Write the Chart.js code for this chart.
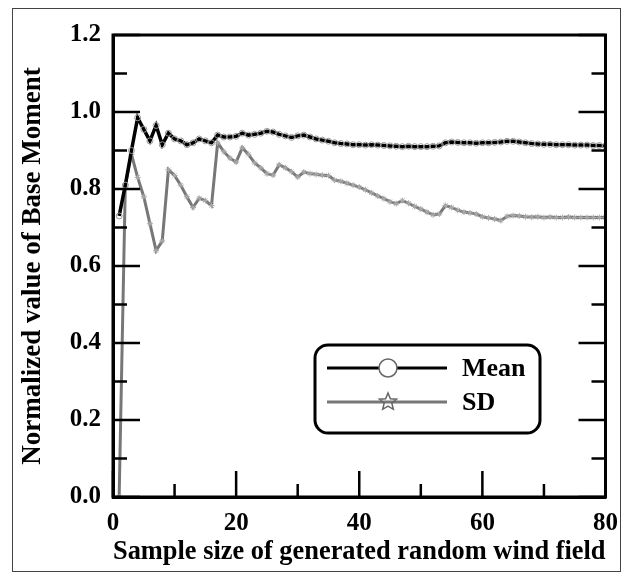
<!DOCTYPE html>
<html>
<head>
<meta charset="utf-8">
<script src="https://cdn.jsdelivr.net/npm/chart.js@4/dist/chart.umd.min.js"></script>
<style>
  html, body { margin: 0; padding: 0; background: #fff; }
  #wrap { position: relative; width: 630px; height: 581px; }
  #frame { position: absolute; left: 12px; top: 8px; width: 609px; height: 564px; border: 1.5px solid #444; box-sizing: border-box; }
  canvas { position: absolute; left: 0; top: 0; }
</style>
</head>
<body>
<div id="wrap">
  <div id="frame"></div>
  <canvas id="chart" width="630" height="581"></canvas>
</div>
<script>
var sampleSizes = [1, 2, 3, 4, 5, 6, 7, 8, 9, 10,
    11, 12, 13, 14, 15, 16, 17, 18, 19, 20,
    21, 22, 23, 24, 25, 26, 27, 28, 29, 30,
    31, 32, 33, 34, 35, 36, 37, 38, 39, 40,
    41, 42, 43, 44, 45, 46, 47, 48, 49, 50,
    51, 52, 53, 54, 55, 56, 57, 58, 59, 60,
    61, 62, 63, 64, 65, 66, 67, 68, 69, 70,
    71, 72, 73, 74, 75, 76, 77, 78, 79, 80];

var meanValues = [0.73, 0.81, 0.90, 0.985, 0.955, 0.925, 0.965, 0.915, 0.945, 0.93,
    0.925, 0.915, 0.92, 0.93, 0.925, 0.92, 0.94, 0.935, 0.935, 0.937,
    0.945, 0.94, 0.942, 0.945, 0.95, 0.948, 0.942, 0.938, 0.934, 0.938,
    0.94, 0.935, 0.93, 0.927, 0.924, 0.92, 0.918, 0.917, 0.915, 0.915,
    0.914, 0.915, 0.914, 0.913, 0.912, 0.911, 0.91, 0.911, 0.91, 0.91,
    0.91, 0.911, 0.912, 0.92, 0.922, 0.921, 0.92, 0.92, 0.919, 0.92,
    0.92, 0.921, 0.922, 0.924, 0.924, 0.922, 0.92, 0.918, 0.917, 0.916,
    0.916, 0.915, 0.915, 0.915, 0.914, 0.914, 0.914, 0.913, 0.913, 0.912];

var sdValues = [0.0, 0.81, 0.89, 0.83, 0.78, 0.71, 0.64, 0.665, 0.85, 0.835,
    0.81, 0.78, 0.752, 0.776, 0.77, 0.757, 0.92, 0.897, 0.88, 0.87,
    0.907, 0.89, 0.868, 0.855, 0.84, 0.836, 0.863, 0.855, 0.845, 0.831,
    0.844, 0.84, 0.838, 0.836, 0.835, 0.823, 0.82, 0.815, 0.81, 0.805,
    0.798, 0.79, 0.782, 0.775, 0.767, 0.762, 0.77, 0.763, 0.755, 0.748,
    0.74, 0.733, 0.735, 0.757, 0.752, 0.745, 0.74, 0.738, 0.735, 0.728,
    0.725, 0.722, 0.718, 0.729, 0.731, 0.73, 0.728, 0.727, 0.728, 0.726,
    0.727, 0.726, 0.726, 0.727, 0.726, 0.726, 0.726, 0.726, 0.726, 0.726];

var seriesNames = ["Mean", "SD"];
var xTitle = "Sample size of generated random wind field";
var yTitle = "Normalized value of Base Moment";

var serif = "'Liberation Serif', 'Times New Roman', serif";

function toPoints(vals) {
    return sampleSizes.map(function (x, i) { return { x: x, y: vals[i] }; });
}

// inward ticks on all four sides + closing the box
var boxTicks = {
    id: 'boxTicks',
    afterDatasetsDraw: function (chart) {
        var ctx = chart.ctx, a = chart.chartArea;
        var xs = chart.scales.x, ys = chart.scales.y;
        ctx.save();
        ctx.strokeStyle = '#000';
        ctx.lineWidth = 3;
        ctx.strokeRect(a.left, a.top, a.right - a.left, a.bottom - a.top);
        ctx.lineWidth = 2.5;
        ctx.beginPath();
        for (var v = 0; v <= 12; v++) {
            var py = ys.getPixelForValue(v / 10);
            var len = v % 2 === 0 ? 27 : 14;
            ctx.moveTo(a.left, py); ctx.lineTo(a.left + len, py);
            ctx.moveTo(a.right, py); ctx.lineTo(a.right - len, py);
        }
        for (var t = 0; t <= 80; t += 10) {
            var px = xs.getPixelForValue(t);
            var l = t % 20 === 0 ? 26 : 13;
            ctx.moveTo(px, a.bottom); ctx.lineTo(px, a.bottom - l);
        }
        ctx.stroke();
        ctx.restore();
    }
};

function drawStar(ctx, cx, cy, r) {
    ctx.beginPath();
    for (var i = 0; i < 10; i++) {
        var ang = -Math.PI / 2 + i * Math.PI / 5;
        var rr = i % 2 === 0 ? r : r * 0.45;
        var px = cx + rr * Math.cos(ang), py = cy + rr * Math.sin(ang);
        if (i === 0) ctx.moveTo(px, py); else ctx.lineTo(px, py);
    }
    ctx.closePath();
}

var boxLegend = {
    id: 'boxLegend',
    afterDraw: function (chart) {
        var ctx = chart.ctx;
        var x0 = 315, y0 = 345, w = 225, h = 88, r = 13;
        ctx.save();
        ctx.fillStyle = '#fff';
        ctx.strokeStyle = '#000';
        ctx.lineWidth = 3;
        ctx.beginPath();
        ctx.roundRect(x0, y0, w, h, r);
        ctx.fill();
        ctx.stroke();

        var rows = [y0 + 23, y0 + 57];
        chart.data.datasets.forEach(function (ds, i) {
            var yy = rows[i];
            ctx.strokeStyle = ds.borderColor;
            ctx.lineWidth = 3;
            ctx.beginPath();
            ctx.moveTo(x0 + 12, yy); ctx.lineTo(x0 + 132, yy);
            ctx.stroke();
            ctx.lineWidth = 1.5;
            ctx.strokeStyle = '#666';
            if (i === 0) {
                ctx.fillStyle = '#fff';
                ctx.beginPath();
                ctx.arc(x0 + 73, yy, 9, 0, Math.PI * 2);
                ctx.fill();
                ctx.stroke();
            } else {
                drawStar(ctx, x0 + 73, yy, 9);
                ctx.stroke();
            }
            ctx.fillStyle = '#000';
            ctx.font = 'bold 26px ' + serif;
            ctx.textBaseline = 'middle';
            ctx.textAlign = 'left';
            ctx.fillText(ds.label, x0 + 147, yy + 1);
        });
        ctx.restore();
    }
};

var ctx = document.getElementById('chart').getContext('2d');

var chart = new Chart(ctx, {
    type: 'line',
    data: {
        datasets: [{
            label: seriesNames[0],
            data: toPoints(meanValues),
            borderColor: '#000',
            borderWidth: 3.5,
            pointStyle: 'circle',
            pointRadius: 3,
            pointBorderColor: '#999',
            pointBorderWidth: 1,
            pointBackgroundColor: 'rgba(0,0,0,0)',
            tension: 0
        }, {
            label: seriesNames[1],
            data: toPoints(sdValues),
            borderColor: '#777',
            borderWidth: 3,
            pointStyle: 'star',
            pointRadius: 3,
            pointBorderColor: '#aaa',
            pointBorderWidth: 1,
            pointBackgroundColor: 'rgba(0,0,0,0)',
            tension: 0
        }]
    },
    options: {
        responsive: false,
        animation: false,
        layout: { padding: { top: 35, right: 21, left: 0, bottom: 0 } },
        plugins: {
            legend: { display: false },
            tooltip: { enabled: false }
        },
        scales: {
            x: {
                type: 'linear',
                min: 0,
                max: 80,
                afterFit: function (s) { s.height = 84; },
                grid: { display: false, drawTicks: false },
                border: { display: true, color: '#000', width: 3 },
                ticks: {
                    stepSize: 20,
                    padding: 12,
                    color: '#000',
                    font: { family: serif, size: 25, weight: 'bold' }
                },
                title: {
                    display: true,
                    text: xTitle,
                    color: '#000',
                    padding: { top: 13, bottom: 13 },
                    font: { family: serif, size: 27, weight: 'bold' }
                }
            },
            y: {
                min: 0,
                max: 1.2,
                afterFit: function (s) { s.width = 113; },
                grid: { display: false, drawTicks: false },
                border: { display: true, color: '#000', width: 3 },
                ticks: {
                    stepSize: 0.2,
                    padding: 12,
                    color: '#000',
                    font: { family: serif, size: 25, weight: 'bold' },
                    callback: function (v) { return v.toFixed(1); }
                },
                title: {
                    display: true,
                    text: yTitle,
                    color: '#000',
                    padding: { top: 17, bottom: 17 },
                    font: { family: serif, size: 27, weight: 'bold' }
                }
            }
        }
    },
    plugins: [boxTicks, boxLegend]
});
</script>
</body>
</html>
